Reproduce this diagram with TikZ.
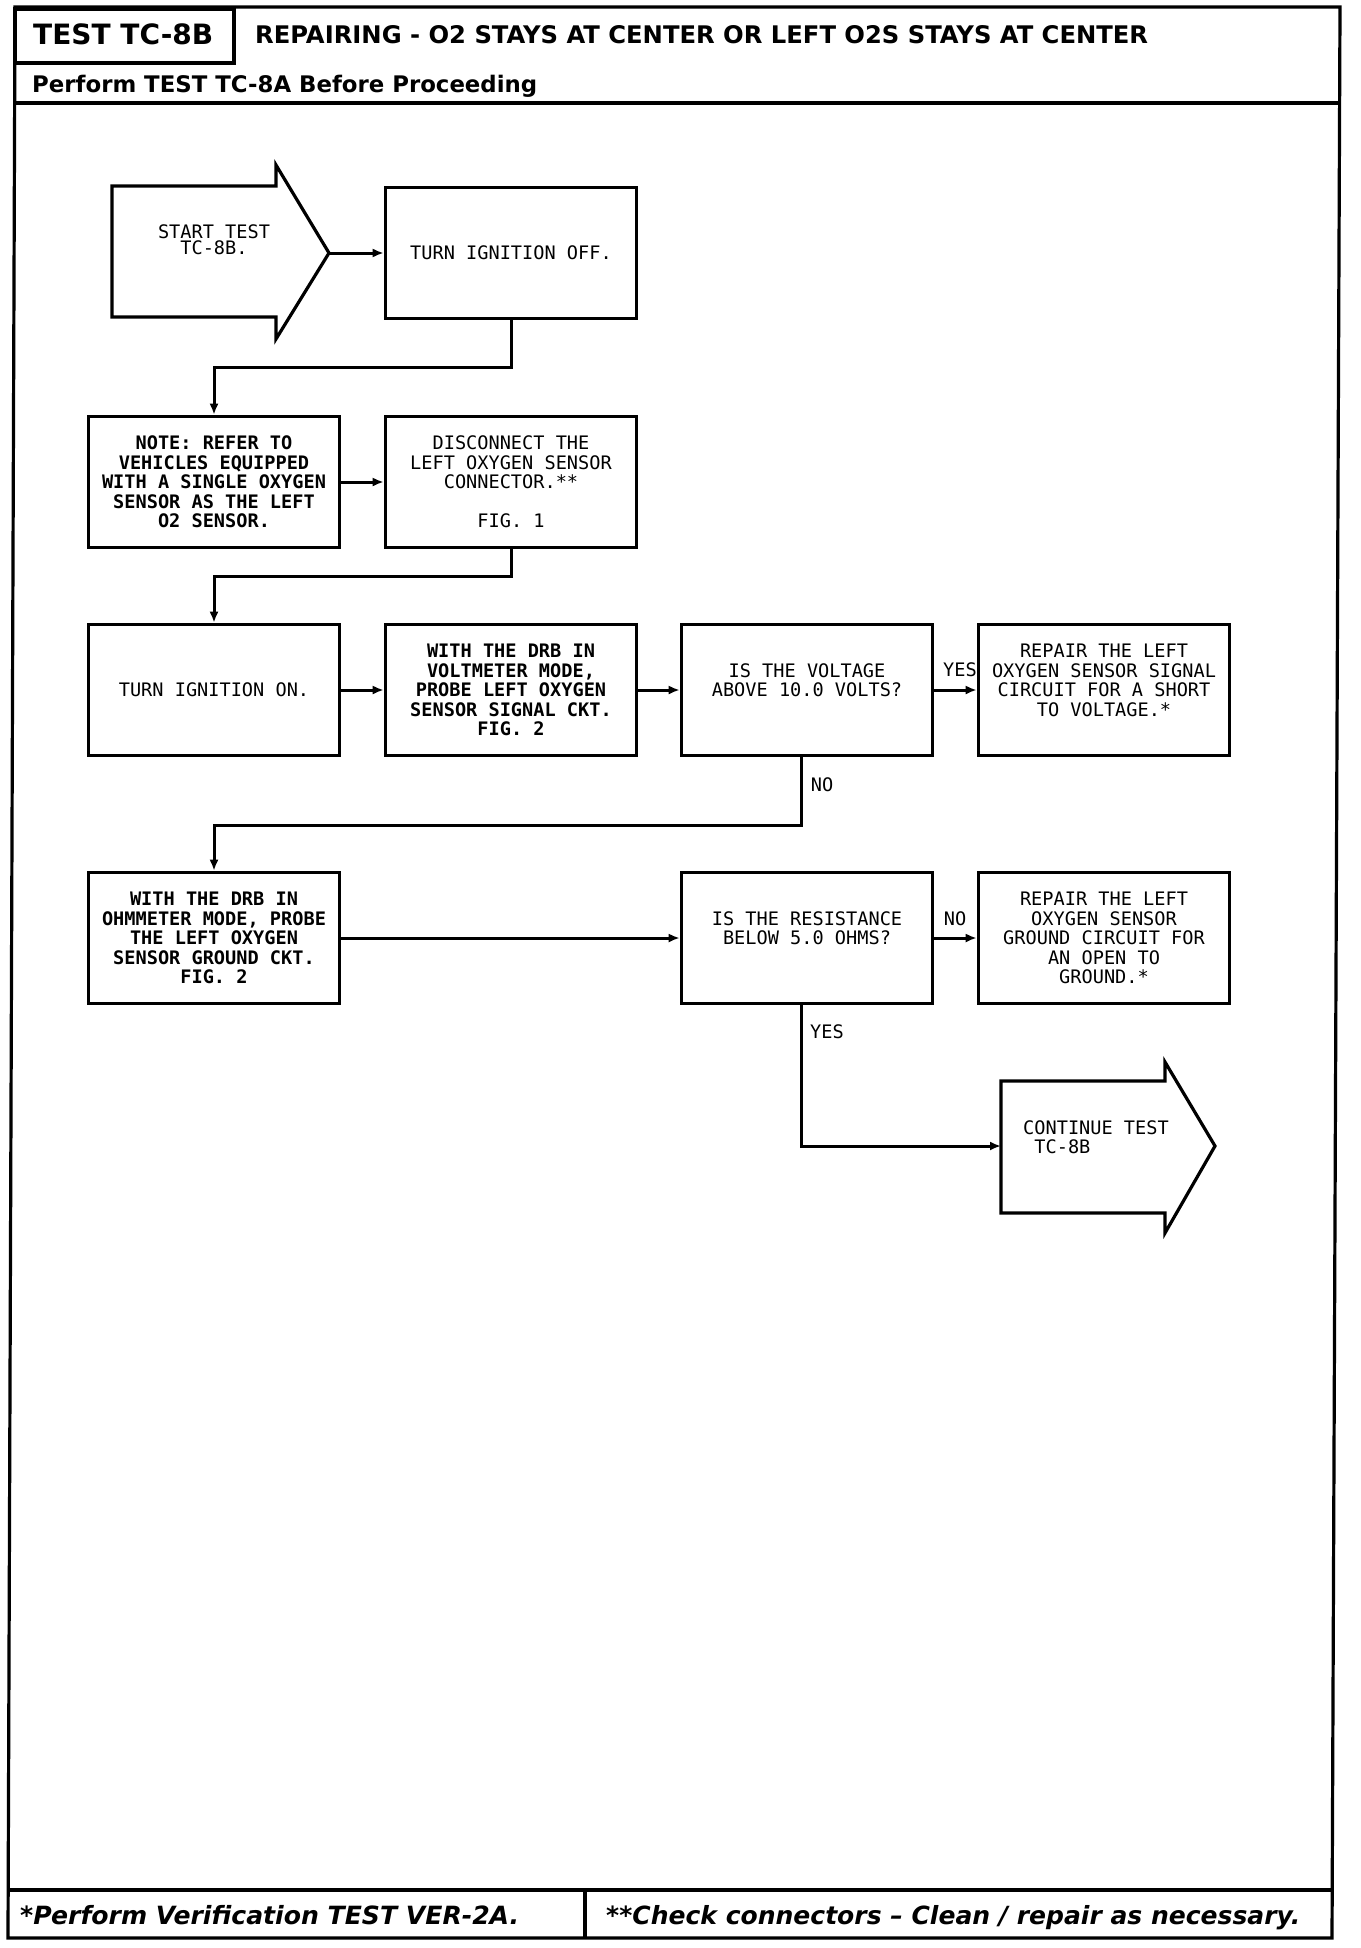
\documentclass[tikz,border=0pt]{standalone}
\usepackage{fontspec}
\usetikzlibrary{arrows.meta,calc}
\newfontfamily\plotfont{DejaVu Sans Mono}
\newfontfamily\hdrfont{DejaVu Sans}
\tikzset{
  pfont/.style={font=\plotfont\fontsize{18.6}{19.5}\selectfont},
  stepbox/.style={draw, line width=3.6pt, minimum width=251pt, minimum height=131pt, inner sep=0pt, align=center, pfont},
  boldbox/.style={stepbox, font=\plotfont\bfseries\fontsize{18.6}{19.5}\selectfont},
  conn/.style={line width=3pt, -{Latex[length=11pt,width=9pt]}},
  lbl/.style={pfont, inner sep=0pt},
  frameline/.style={line width=3.2pt},
  shapeline/.style={line width=3.2pt, line join=miter},
  hdr/.style={inner sep=0pt, anchor=base west},
}
\begin{document}
\begin{tikzpicture}[x=1pt,y=-1pt]
\useasboundingbox (0,0) rectangle (1360,1948);
% page frame
\draw[frameline] (15,7) -- (1340,7) -- (1332,1938) -- (8,1938) -- cycle;
\draw[frameline, line width=3.8pt] (15,9) rectangle (234,63);
\draw[frameline] (15,103) -- (1340,103);
\draw[frameline] (8,1890) -- (1332,1890);
\draw[frameline] (585,1890) -- (585,1938);
% header texts
\node[hdr] (tid) at (33,45) {\resizebox{180pt}{!}{\hdrfont\bfseries TEST TC-8B}};
\node[hdr] (title) at (255,44) {\resizebox{893pt}{!}{\hdrfont\bfseries REPAIRING - O2 STAYS AT CENTER OR LEFT O2S STAYS AT CENTER}};
\node[hdr] (pre) at (32,93) {\resizebox{505pt}{!}{\hdrfont\bfseries Perform TEST TC-8A Before Proceeding}};
% footer texts
\node[hdr] (fn1) at (20,1924) {\resizebox{499pt}{!}{\hdrfont\bfseries\itshape *Perform Verification TEST VER-2A.}};
\node[hdr] (fn2) at (606,1924) {\resizebox{694pt}{!}{\hdrfont\bfseries\itshape **Check connectors – Clean / repair as necessary.}};
% start arrow
\draw[shapeline] (112,186) -- (276,186) -- (276,165) -- (329,253) -- (276,339) -- (276,317) -- (112,317) -- cycle;
\coordinate (starttip) at (329,253);
\node[inner sep=0pt, align=center, font=\plotfont\fontsize{18.6}{16}\selectfont] (start) at (214,240) {START TEST\\TC-8B.};
% boxes
\node[stepbox] (off) at (511,253) {TURN IGNITION OFF.};
\node[boldbox] (note) at (214,482) {NOTE: REFER TO\\VEHICLES EQUIPPED\\WITH A SINGLE OXYGEN\\SENSOR AS THE LEFT\\O2 SENSOR.};
\node[stepbox] (disc) at (511,482) {DISCONNECT THE\\LEFT OXYGEN SENSOR\\CONNECTOR.**\\\mbox{}\\FIG. 1};
\node[stepbox] (on) at (214,690) {TURN IGNITION ON.};
\node[boldbox] (volt) at (511,690) {WITH THE DRB IN\\VOLTMETER MODE,\\PROBE LEFT OXYGEN\\SENSOR SIGNAL CKT.\\FIG. 2};
\node[stepbox] (vq) at (807,690) {IS THE VOLTAGE\\ABOVE 10.0 VOLTS?\\\mbox{}};
\node[stepbox] (rep1) at (1104,690) {REPAIR THE LEFT\\OXYGEN SENSOR SIGNAL\\CIRCUIT FOR A SHORT\\TO VOLTAGE.*\\\mbox{}};
\node[boldbox] (ohm) at (214,938) {WITH THE DRB IN\\OHMMETER MODE, PROBE\\THE LEFT OXYGEN\\SENSOR GROUND CKT.\\FIG. 2};
\node[stepbox] (rq) at (807,938) {IS THE RESISTANCE\\BELOW 5.0 OHMS?\\\mbox{}};
\node[stepbox] (rep2) at (1104,938) {REPAIR THE LEFT\\OXYGEN SENSOR\\GROUND CIRCUIT FOR\\AN OPEN TO\\GROUND.*};
% continue arrow
\draw[shapeline] (1001,1081) -- (1165,1081) -- (1165,1062) -- (1215,1146) -- (1165,1233) -- (1165,1213) -- (1001,1213) -- cycle;
\coordinate (conttail) at (1001,1146);
\node[inner sep=0pt, align=left, anchor=west, font=\plotfont\fontsize{18.6}{18.6}\selectfont] (cont) at (1023,1137) {CONTINUE TEST\\\hspace*{11.2pt}TC-8B};
% connectors
\draw[conn] (starttip) -- (off.west);
\draw[conn] (off.south) -- ++(0,47) -| (note.north);
\draw[conn] (note) -- (disc);
\draw[conn] (disc.south) -- ++(0,27) -| (on.north);
\draw[conn] (on) -- (volt);
\draw[conn] (volt) -- (vq);
\draw[conn] (vq) -- (rep1);
\draw[conn] ($(vq.south)+(-6,0)$) -- ++(0,68) -| (ohm.north);
\draw[conn] (ohm) -- (rq);
\draw[conn] (rq) -- (rep2);
\draw[conn] ($(rq.south)+(-6,0)$) |- (conttail);
% labels
\node[lbl] (y1) at (960,670) {YES};
\node[lbl] (n1) at (822,785) {NO};
\node[lbl] (n2) at (955,919) {NO};
\node[lbl] (y2) at (827,1032) {YES};
\end{tikzpicture}
\end{document}
